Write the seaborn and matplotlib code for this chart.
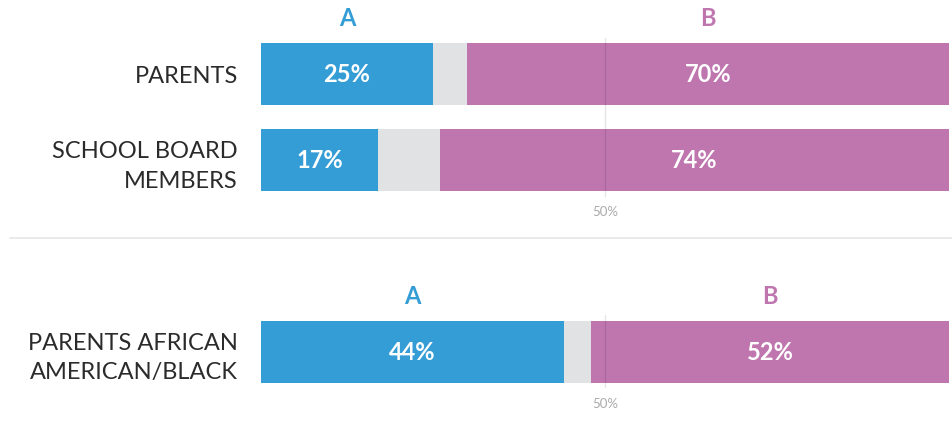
import numpy as np
import pandas as pd
import matplotlib
matplotlib.use("Agg")
import matplotlib.pyplot as plt
import seaborn as sns
from matplotlib.lines import Line2D

# data
groups_top = ["PARENTS", "SCHOOL BOARD\nMEMBERS"]
a_top = [25, 17]
b_top = [70, 74]

groups_bottom = ["PARENTS AFRICAN\nAMERICAN/BLACK"]
a_bottom = [44]
b_bottom = [52]

BLUE = "#349DD6"
PURPLE = "#BF76AF"
GRAY = "#E1E2E4"

sns.set_theme(style="white")
plt.rcParams["font.family"] = ["Lato", "DejaVu Sans"]

W, H = 953, 430
fig = plt.figure(figsize=(W / 100, H / 100), dpi=100)
ROW = 86.0  # pixels per category step
BAR_W = 62 / ROW


def axes_px(x0, x1, y0, y1):
    return fig.add_axes([x0 / W, 1 - y1 / H, (x1 - x0) / W, (y1 - y0) / H])


def draw_panel(ax, groups, a_vals, b_vals, top_px, center_px, bottom_px):
    df = pd.DataFrame({"group": groups, "A": a_vals, "B": b_vals})
    df["total"] = 100
    df["not_b"] = 100 - df["B"]

    # layered bars -> stacked look
    for col, c in [("total", PURPLE), ("not_b", GRAY), ("A", BLUE)]:
        sns.barplot(data=df, x=col, y="group", color=c, width=BAR_W,
                    saturation=1, linewidth=0, ax=ax, zorder=2)

    ax.set_xlim(0, 100)
    ax.set_ylim((bottom_px - center_px) / ROW, -(center_px - top_px) / ROW)
    ax.axvline(50, color="black", alpha=0.1, lw=1, zorder=5)

    for i, (a, b) in enumerate(zip(a_vals, b_vals)):
        ax.text(a / 2, i, f"{a}%", color="white", fontsize=17, fontweight="bold",
                ha="center", va="center", zorder=6)
        ax.text(100 - b / 2, i, f"{b}%", color="white", fontsize=17, fontweight="bold",
                ha="center", va="center", zorder=6)

    head_y = -56 / ROW
    ax.text(a_vals[0] / 2, head_y, "A", color=BLUE, fontsize=17, fontweight="bold",
            ha="center", va="center", clip_on=False)
    ax.text(100 - b_vals[0] / 2, head_y, "B", color=PURPLE, fontsize=17, fontweight="bold",
            ha="center", va="center", clip_on=False)
    ax.text(50, len(groups) - 1 + 52 / ROW, "50%", color="#aaaaaa", fontsize=9.5,
            ha="center", va="center", clip_on=False)

    ax.set_xlabel("")
    ax.set_ylabel("")
    ax.set_xticks([])
    ax.tick_params(axis="y", length=0, pad=16.5, labelsize=17, labelcolor="#2b2b2b")
    for lbl in ax.get_yticklabels():
        lbl.set_linespacing(1.5)
    for s in ax.spines.values():
        s.set_visible(False)
    ax.patch.set_alpha(0)


ax1 = axes_px(261, 949, 38, 197)
draw_panel(ax1, groups_top, a_top, b_top, 38, 74, 197)

ax2 = axes_px(261, 949, 315, 388)
draw_panel(ax2, groups_bottom, a_bottom, b_bottom, 315, 352, 388)

fig.add_artist(Line2D([10 / W, 1], [1 - 238 / H] * 2, color="#e6e6e6", lw=1.2))

fig.savefig("out.png", dpi=100, facecolor="white")
